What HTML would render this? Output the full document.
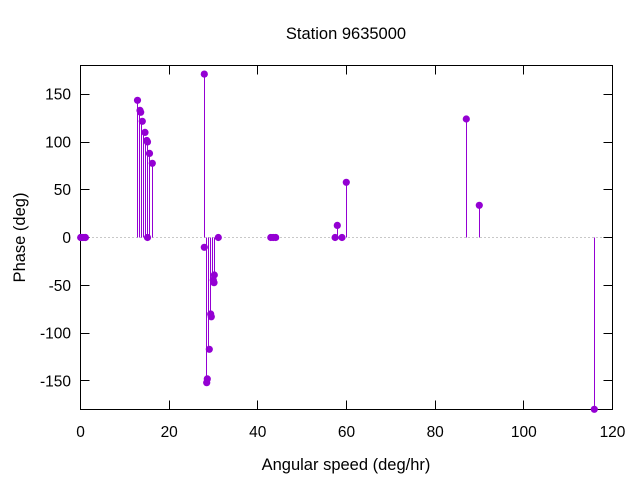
<!DOCTYPE html>
<html>
<head>
<meta charset="utf-8">
<style>
html,body{margin:0;padding:0;background:#fff;}
svg{display:block;font-family:"Liberation Sans","DejaVu Sans",sans-serif;}
</style>
</head>
<body>
<svg width="640" height="480" viewBox="0 0 640 480" xmlns="http://www.w3.org/2000/svg">
<rect width="640" height="480" fill="#fff"/>
<!-- zero axis -->
<line x1="80.5" y1="237.5" x2="612.5" y2="237.5" stroke="#909090" stroke-width="1" stroke-dasharray="1,3"/>
<!-- border -->
<rect x="80.5" y="65.5" width="532" height="344" fill="none" stroke="#000" stroke-width="1"/>
<!-- ticks -->
<g stroke="#000" stroke-width="1">
<line x1="80.5" y1="94.5" x2="89.5" y2="94.5"/><line x1="612.5" y1="94.5" x2="603.5" y2="94.5"/>
<line x1="80.5" y1="142.5" x2="89.5" y2="142.5"/><line x1="612.5" y1="142.5" x2="603.5" y2="142.5"/>
<line x1="80.5" y1="189.5" x2="89.5" y2="189.5"/><line x1="612.5" y1="189.5" x2="603.5" y2="189.5"/>
<line x1="80.5" y1="237.5" x2="89.5" y2="237.5"/><line x1="612.5" y1="237.5" x2="603.5" y2="237.5"/>
<line x1="80.5" y1="285.5" x2="89.5" y2="285.5"/><line x1="612.5" y1="285.5" x2="603.5" y2="285.5"/>
<line x1="80.5" y1="333.5" x2="89.5" y2="333.5"/><line x1="612.5" y1="333.5" x2="603.5" y2="333.5"/>
<line x1="80.5" y1="380.5" x2="89.5" y2="380.5"/><line x1="612.5" y1="380.5" x2="603.5" y2="380.5"/>
<line x1="169.5" y1="409.5" x2="169.5" y2="400.5"/><line x1="169.5" y1="65.5" x2="169.5" y2="74.5"/>
<line x1="257.5" y1="409.5" x2="257.5" y2="400.5"/><line x1="257.5" y1="65.5" x2="257.5" y2="74.5"/>
<line x1="346.5" y1="409.5" x2="346.5" y2="400.5"/><line x1="346.5" y1="65.5" x2="346.5" y2="74.5"/>
<line x1="435.5" y1="409.5" x2="435.5" y2="400.5"/><line x1="435.5" y1="65.5" x2="435.5" y2="74.5"/>
<line x1="523.5" y1="409.5" x2="523.5" y2="400.5"/><line x1="523.5" y1="65.5" x2="523.5" y2="74.5"/>
</g>
<!-- tick labels -->
<g font-size="15.5" fill="#000" text-anchor="end">
<text x="71" y="99.7">150</text>
<text x="71" y="147.4">100</text>
<text x="71" y="195.2">50</text>
<text x="71" y="243">0</text>
<text x="71" y="290.8">-50</text>
<text x="71" y="338.6">-100</text>
<text x="71" y="386.3">-150</text>
</g>
<g font-size="15.5" fill="#000" text-anchor="middle">
<text x="80.5" y="437">0</text>
<text x="169.2" y="437">20</text>
<text x="257.8" y="437">40</text>
<text x="346.5" y="437">60</text>
<text x="435.2" y="437">80</text>
<text x="523.8" y="437">100</text>
<text x="612.5" y="437">120</text>
</g>
<!-- titles -->
<text x="346" y="39" font-size="16.5" text-anchor="middle" fill="#000">Station 9635000</text>
<text x="346" y="470" font-size="16.5" text-anchor="middle" fill="#000">Angular speed (deg/hr)</text>
<text transform="translate(25,237.5) rotate(-90)" font-size="16.5" text-anchor="middle" fill="#000">Phase (deg)</text>
<!-- impulses -->
<g stroke="#9400d3" stroke-width="1">
<line x1="137.5" y1="237.5" x2="137.5" y2="100.3"/>
<line x1="139.5" y1="237.5" x2="139.5" y2="110.4"/>
<line x1="141.5" y1="237.5" x2="141.5" y2="121.3"/>
<line x1="143.5" y1="237.5" x2="143.5" y2="132.4"/>
<line x1="145.5" y1="237.5" x2="145.5" y2="140.5"/>
<line x1="147.5" y1="237.5" x2="147.5" y2="141.9"/>
<line x1="149.5" y1="237.5" x2="149.5" y2="153.4"/>
<line x1="152.5" y1="237.5" x2="152.5" y2="163.3"/>
<line x1="204.5" y1="237.5" x2="204.5" y2="74.1"/>
<line x1="206.5" y1="237.5" x2="206.5" y2="382.7"/>
<line x1="208.5" y1="237.5" x2="208.5" y2="349.3"/>
<line x1="210.5" y1="237.5" x2="210.5" y2="316.8"/>
<line x1="212.5" y1="237.5" x2="212.5" y2="282.4"/>
<line x1="214.5" y1="237.5" x2="214.5" y2="274.8"/>
<line x1="337.5" y1="237.5" x2="337.5" y2="225.4"/>
<line x1="346.5" y1="237.5" x2="346.5" y2="182.3"/>
<line x1="466.5" y1="237.5" x2="466.5" y2="119.0"/>
<line x1="479.5" y1="237.5" x2="479.5" y2="205.3"/>
<line x1="594.5" y1="237.5" x2="594.5" y2="409.3"/>
</g>
<!-- points -->
<g fill="#9400d3">
<circle cx="80.7" cy="237.5" r="3.6"/>
<circle cx="80.9" cy="237.5" r="3.6"/>
<circle cx="82.9" cy="237.5" r="3.6"/>
<circle cx="85.0" cy="237.5" r="3.6"/>
<circle cx="85.4" cy="237.5" r="3.6"/>
<circle cx="137.5" cy="100.3" r="3.6"/>
<circle cx="140.0" cy="110.4" r="3.6"/>
<circle cx="140.7" cy="112.3" r="3.6"/>
<circle cx="142.3" cy="121.3" r="3.6"/>
<circle cx="145.0" cy="132.4" r="3.6"/>
<circle cx="146.8" cy="140.5" r="3.6"/>
<circle cx="147.5" cy="237.5" r="3.6"/>
<circle cx="147.5" cy="141.9" r="3.6"/>
<circle cx="149.5" cy="153.4" r="3.6"/>
<circle cx="152.3" cy="163.3" r="3.6"/>
<circle cx="204.3" cy="74.1" r="3.6"/>
<circle cx="204.3" cy="247.3" r="3.6"/>
<circle cx="206.7" cy="382.7" r="3.6"/>
<circle cx="207.3" cy="378.9" r="3.6"/>
<circle cx="209.3" cy="349.3" r="3.6"/>
<circle cx="210.7" cy="314.0" r="3.6"/>
<circle cx="211.3" cy="316.8" r="3.6"/>
<circle cx="213.3" cy="280.0" r="3.6"/>
<circle cx="214.0" cy="282.7" r="3.6"/>
<circle cx="214.3" cy="275.0" r="3.6"/>
<circle cx="218.3" cy="237.5" r="3.6"/>
<circle cx="270.8" cy="237.5" r="3.6"/>
<circle cx="273.2" cy="237.5" r="3.6"/>
<circle cx="275.7" cy="237.5" r="3.6"/>
<circle cx="335.1" cy="237.5" r="3.6"/>
<circle cx="337.3" cy="225.4" r="3.6"/>
<circle cx="342.0" cy="237.5" r="3.6"/>
<circle cx="346.3" cy="182.3" r="3.6"/>
<circle cx="466.3" cy="119.0" r="3.6"/>
<circle cx="479.3" cy="205.3" r="3.6"/>
<circle cx="594.3" cy="409.3" r="3.6"/>
</g>
</svg>
</body>
</html>
